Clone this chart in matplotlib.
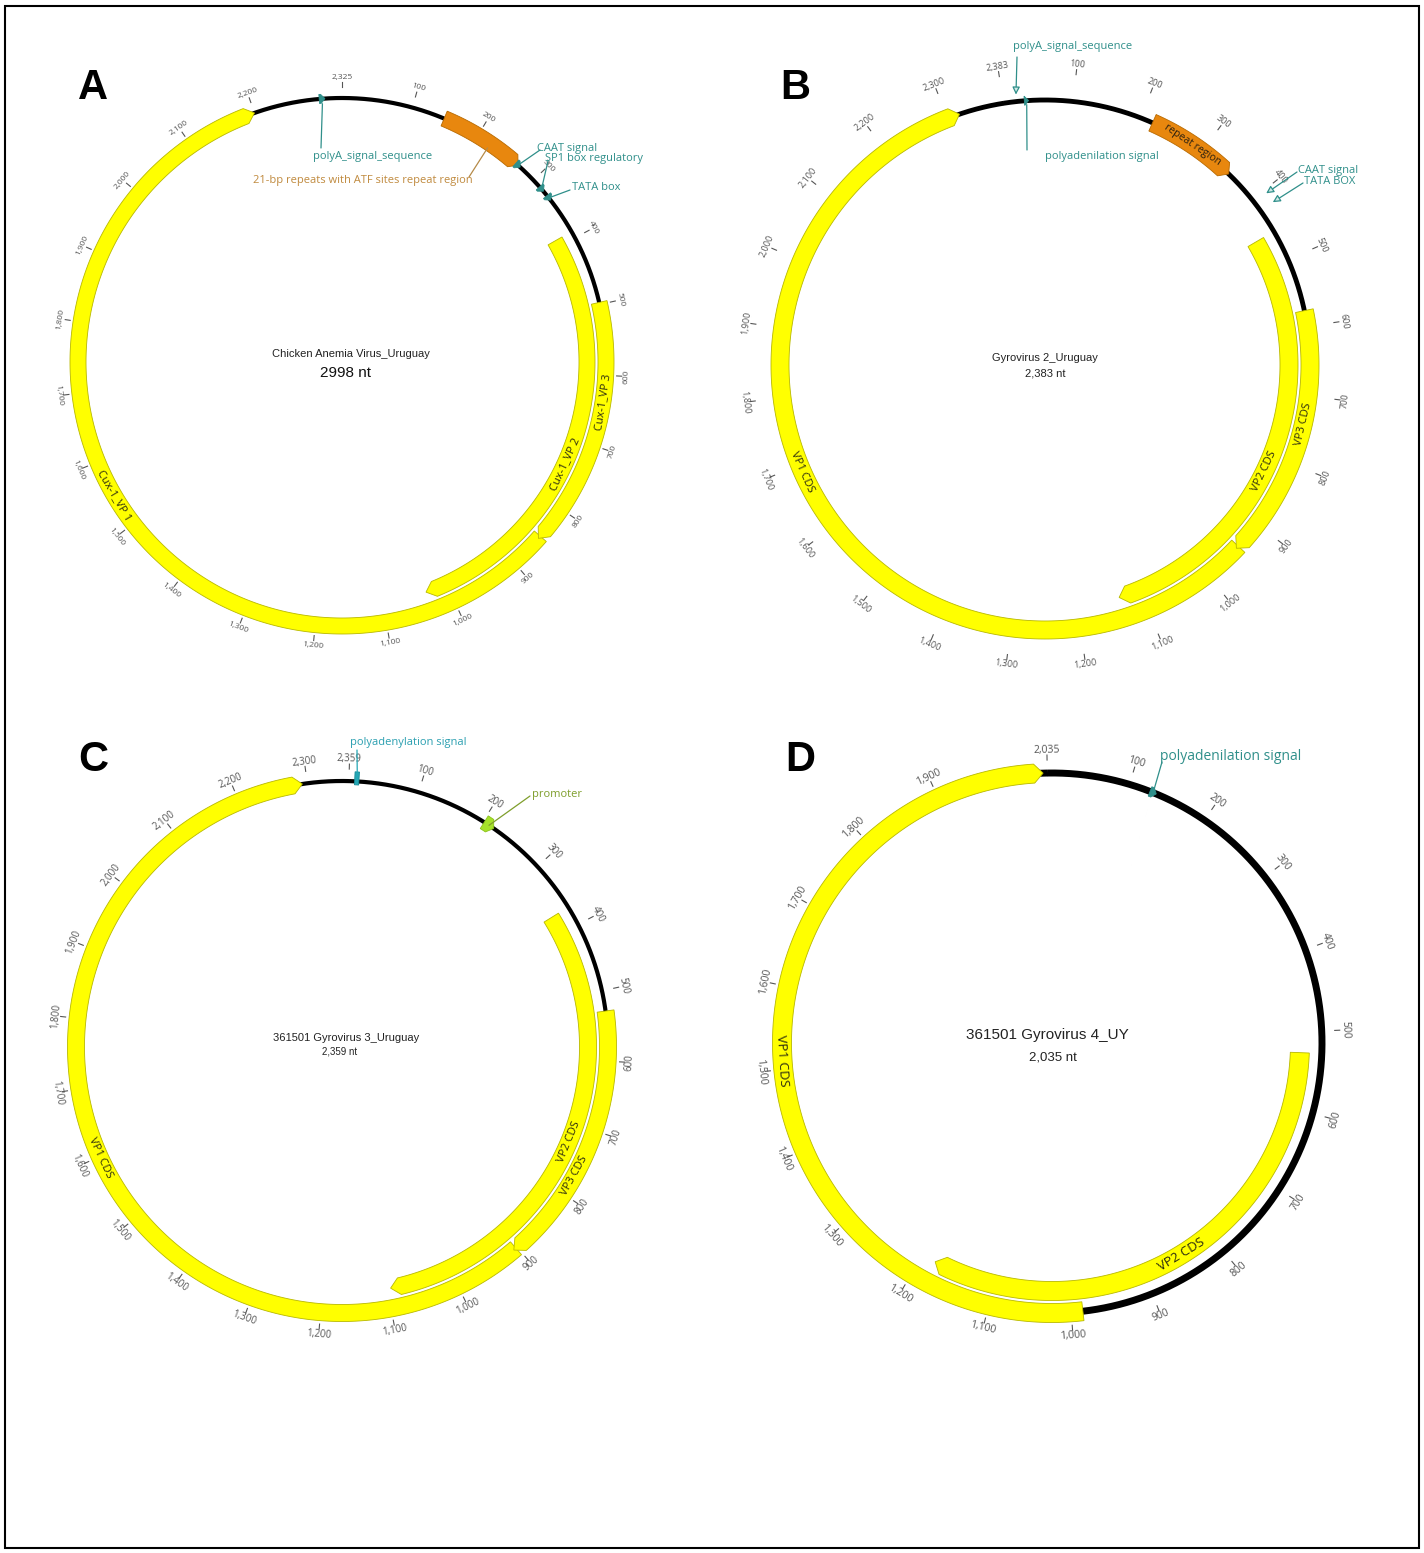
import numpy as np
import matplotlib.pyplot as plt
from matplotlib.patches import Rectangle

W, H = 1424, 1553

# genome A - chicken anemia virus
a_len = 2325
a_cds = ["Cux-1_VP 1", "Cux-1_VP 2", "Cux-1_VP 3"]
a_cds_start = [848, 390, 497]
a_cds_end = [2200, 1033, 852]
a_cds_track = [0, 1, 0]
a_cds_text_at = [1547, 741, 637]
a_repeat = [147, 270]
a_sites = ["polyA_signal_sequence", "CAAT signal", "SP1 box regulatory", "TATA box"]
a_sites_pos = [2297, 270, 317, 333]

# genome B - gyrovirus 2
b_len = 2383
b_cds = ["VP1 CDS", "VP2 CDS", "VP3 CDS"]
b_cds_start = [941, 455, 577]
b_cds_end = [2318, 1134, 945]
b_cds_track = [0, 1, 0]
b_cds_text_at = [1690, 826, 741]
b_repeat = [218, 350]
b_sites = ["polyA_signal_sequence", "polyadenilation signal", "CAAT signal", "TATA BOX"]
b_sites_pos = [19, 33, 405, 420]

# genome C - gyrovirus 3
c_len = 2359
c_cds = ["VP1 CDS", "VP2 CDS", "VP3 CDS"]
c_cds_start = [902, 372, 529]
c_cds_end = [2293, 1095, 906]
c_cds_track = [0, 1, 0]
c_cds_text_at = [1598, 728, 770]
c_sites = ["polyadenylation signal", "promoter"]
c_sites_pos = [11, 210]

# genome D - gyrovirus 4
d_len = 2035
d_cds = ["VP1 CDS", "VP2 CDS"]
d_cds_start = [986, 527]
d_cds_end = [2030, 1182]
d_cds_track = [0, 1]
d_cds_text_at = [1511, 846]
d_sites = ["polyadenilation signal"]
d_sites_pos = [130]

YELLOW, YEDGE = "#ffff00", "#b8b800"
TEAL = "#2f8f8a"
ORANGE = "#e8870e"
GREEN, OLIVE = "#a6e22a", "#7f9e2c"
SANS = ["Open Sans", "DejaVu Sans"]
ARIAL = ["Liberation Sans", "DejaVu Sans"]
AX_R = 345

fig = plt.figure(figsize=(W / 100, H / 100), dpi=100)


def fx(x):
    return x / W


def fy(y):
    return 1 - y / H


def make_axes(cx, cy, rot):
    ax = fig.add_axes([(cx - AX_R) / W, 1 - (cy + AX_R) / H, 2 * AX_R / W, 2 * AX_R / H],
                      projection="polar")
    ax.set_theta_zero_location("N", offset=-rot)
    ax.set_theta_direction(-1)
    ax.set_ylim(0, AX_R)
    ax.set_axis_off()
    ax.patch.set_alpha(0)
    return ax


def tang(a):
    a = a % 360
    return -a if (a <= 90 or a >= 270) else 180 - a


def band(ax, L, start, end, r, w, fc, ec=YEDGE, head=9, z=3):
    t0, t1 = 2 * np.pi * start / L, 2 * np.pi * end / L
    tb = t1 - head / r if head else t1
    ts = np.linspace(t0, tb, 300)
    th = np.concatenate([ts, [t1], ts[::-1]])
    rr = np.concatenate([np.full(ts.size, r + w / 2), [r], np.full(ts.size, r - w / 2)])
    ax.fill(th, rr, fc=fc, ec=ec, lw=0.6, zorder=z)


def backbone(ax, R, lw):
    t = np.linspace(0, 2 * np.pi, 900)
    ax.plot(t, np.full(t.size, R), color="black", lw=lw, zorder=2, solid_capstyle="butt")


def ruler(ax, L, rot, r_lab, fs):
    pos = [p for p in range(100, L, 100) if L - p >= 50] + [L]
    for p in pos:
        t = 2 * np.pi * (p % L) / L
        a = 360 * p / L + rot
        ax.plot([t, t], [r_lab - 9, r_lab - 4], color="#555555", lw=0.8, zorder=2)
        ax.text(t, r_lab + 1, f"{p:,}", rotation=tang(a), rotation_mode="anchor",
                ha="center", va="center", fontsize=fs, color="#555555", family=SANS)


def cds(ax, L, rot, R, bw, off, names, starts, ends, tracks, text_at, fs):
    for n, s, e, k, tp in zip(names, starts, ends, tracks, text_at):
        r = R - k * off
        band(ax, L, s, e, r, bw, YELLOW)
        ax.text(2 * np.pi * tp / L, r, n, rotation=tang(360 * tp / L + rot),
                rotation_mode="anchor", ha="center", va="center", fontsize=fs,
                color="#2b2b10", family=SANS, zorder=5)


def callout(ax, L, p, r, x, y, color, head=False):
    ax.annotate("", xy=(2 * np.pi * p / L, r), xycoords="data",
                xytext=(fx(x), fy(y)), textcoords="figure fraction",
                arrowprops=dict(arrowstyle="-|>" if head else "-", color=color, lw=0.9,
                                shrinkA=0, shrinkB=0, mutation_scale=11,
                                fc="#cfe9e6" if head else color),
                zorder=6)


def label(x, y, s, color=TEAL, fs=8, ha="left", family=SANS, **kw):
    fig.text(fx(x), fy(y), s, ha=ha, va="center", fontsize=fs, color=color, family=family, **kw)


# ---------------- A ----------------
R = 264
ax = make_axes(342, 362, 0)
backbone(ax, R, 3)
ruler(ax, a_len, 0, R + 20, 6)
band(ax, a_len, a_repeat[0], a_repeat[1], R, 16, ORANGE, ec="#b86a00", head=7)
cds(ax, a_len, 0, R, 16, 19, a_cds, a_cds_start, a_cds_end, a_cds_track, a_cds_text_at, 8)
for p in a_sites_pos:
    band(ax, a_len, p - 4, p + 4, R, 9, TEAL, ec=TEAL, head=4, z=4)
callout(ax, a_len, a_sites_pos[0], R - 5, 321, 148, TEAL)
label(373, 157, a_sites[0], ha="center")
callout(ax, a_len, 221, R - 5, 469, 177, "#b58a48")
label(363, 181, "21-bp repeats with ATF sites repeat region", color="#c08a3e", ha="center")
callout(ax, a_len, a_sites_pos[1], R, 540, 150, TEAL)
label(537, 149, a_sites[1])
callout(ax, a_len, a_sites_pos[2], R, 548, 161, TEAL)
label(545, 159, a_sites[2])
callout(ax, a_len, a_sites_pos[3], R, 570, 190, TEAL)
label(572, 188, a_sites[3])
label(351, 354, "Chicken Anemia Virus_Uruguay", color="#222222", fs=8, ha="center", family=ARIAL)
label(346, 373, "2998 nt", color="#111111", fs=11, ha="center", family=ARIAL)

# ---------------- B ----------------
R = 265
rot = -9
ax = make_axes(1045, 365, rot)
backbone(ax, R, 3.5)
ruler(ax, b_len, rot, R + 36, 6.5)
band(ax, b_len, b_repeat[0], b_repeat[1], R, 18, ORANGE, ec="#b86a00", head=7)
mid = (b_repeat[0] + b_repeat[1]) / 2
ax.text(2 * np.pi * mid / b_len, R, "repeat region", rotation=tang(360 * mid / b_len + rot),
        rotation_mode="anchor", ha="center", va="center", fontsize=7.5, color="#2b2010",
        family=SANS, zorder=5)
cds(ax, b_len, rot, R, 18, 21, b_cds, b_cds_start, b_cds_end, b_cds_track, b_cds_text_at, 8)
band(ax, b_len, b_sites_pos[1] - 3, b_sites_pos[1] + 3, R, 9, TEAL, ec=TEAL, head=4, z=4)
callout(ax, b_len, b_sites_pos[0], R + 7, 1017, 57, TEAL, head=True)
label(1073, 46, b_sites[0], ha="center")
callout(ax, b_len, b_sites_pos[1], R - 4, 1027, 150, TEAL)
label(1102, 157, b_sites[1], ha="center")
callout(ax, b_len, b_sites_pos[2], R + 15, 1297, 172, TEAL, head=True)
label(1298, 170, b_sites[2])
callout(ax, b_len, b_sites_pos[3], R + 15, 1303, 183, TEAL, head=True)
label(1304, 181, b_sites[3])
label(1045, 358, "Gyrovirus 2_Uruguay", color="#222222", fs=8, ha="center", family=ARIAL)
label(1045, 374, "2,383 nt", color="#222222", fs=8, ha="center", family=ARIAL)

# ---------------- C ----------------
R = 266
rot = 1.5
ax = make_axes(342, 1047, rot)
backbone(ax, R, 3)
ruler(ax, c_len, rot, R + 21, 7)
cds(ax, c_len, rot, R, 17, 20, c_cds, c_cds_start, c_cds_end, c_cds_track, c_cds_text_at, 8)
band(ax, c_len, c_sites_pos[0] - 3, c_sites_pos[0] + 3, R + 3, 13, "#25a7b5", ec="#1b8d99", head=0, z=4)
band(ax, c_len, c_sites_pos[1] - 8, c_sites_pos[1] + 8, R, 15, GREEN, ec="#8cc21c", head=5, z=4)
callout(ax, c_len, c_sites_pos[0], R + 9, 357, 750, "#25a7b5")
label(350, 742, c_sites[0], color="#2a9fb0")
callout(ax, c_len, c_sites_pos[1], R, 530, 796, OLIVE)
label(532, 794, c_sites[1], color=OLIVE)
label(346, 1038, "361501 Gyrovirus 3_Uruguay", color="#222222", fs=8, ha="center", family=ARIAL)
label(340, 1052, "2,359 nt", color="#222222", fs=7, ha="center", family=ARIAL)

# ---------------- D ----------------
R = 270
rot = -1
ax = make_axes(1052, 1043, rot)
backbone(ax, R, 5)
ruler(ax, d_len, rot, R + 22, 7.5)
cds(ax, d_len, rot, R, 19, 22, d_cds, d_cds_start, d_cds_end, d_cds_track, d_cds_text_at, 9.5)
band(ax, d_len, d_sites_pos[0] - 4, d_sites_pos[0] + 4, R, 10, TEAL, ec=TEAL, head=4, z=4)
callout(ax, d_len, d_sites_pos[0], R, 1162, 762, TEAL)
label(1160, 756, d_sites[0], fs=10)
label(1047, 1035, "361501 Gyrovirus 4_UY", color="#222222", fs=11, ha="center", family=ARIAL)
label(1053, 1057, "2,035 nt", color="#222222", fs=9.5, ha="center", family=ARIAL)

# panel letters
for s, x, y in [("A", 93, 88), ("B", 795, 88), ("C", 93, 760), ("D", 800, 760)]:
    fig.text(fx(x), fy(y), s, ha="center", va="center", fontsize=30, fontweight="bold",
             family=ARIAL, color="black")

fig.patches.append(Rectangle((fx(5), fy(1548)), (1414) / W, (1542) / H, transform=fig.transFigure,
                             fill=False, ec="black", lw=1.5))

fig.savefig("out.png", dpi=100)
